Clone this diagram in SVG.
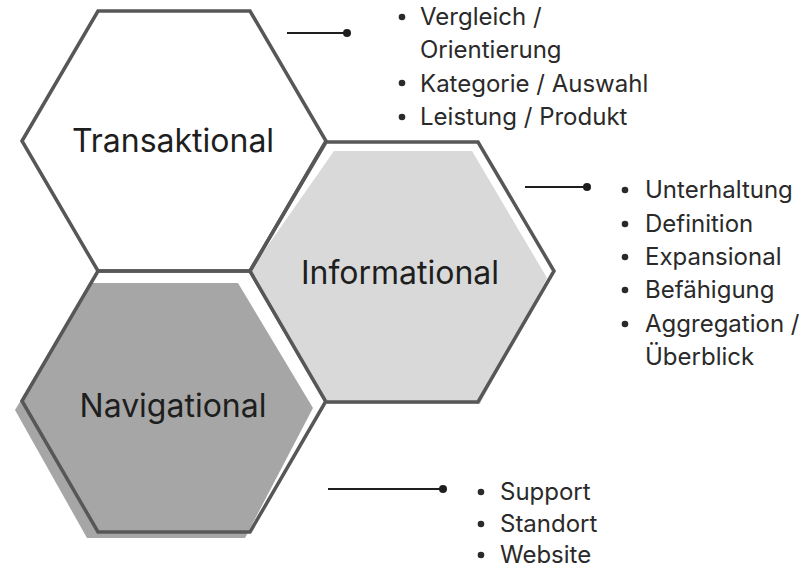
<svg xmlns="http://www.w3.org/2000/svg" width="807" height="569" viewBox="0 0 807 569">
<style>
.hexline{fill:none;stroke:#575757;stroke-width:3.5;stroke-linejoin:miter}
.title{font-family:Inter,"Liberation Sans",sans-serif;font-size:32px;fill:#1e1e1e;text-anchor:middle}
.item{font-family:Inter,"Liberation Sans",sans-serif;font-size:24px;fill:#2a2a2a}
.conn{stroke:#1e1e1e;stroke-width:2.2;fill:none}
.dot{fill:#1e1e1e}
.bul{fill:#2a2a2a}
</style>
<rect width="807" height="569" fill="#ffffff"/>
<g id="navigational">
  <polygon points="92,283 238,283 313,408 245,538 87,538 15,410" fill="#a6a6a6"/>
  <polygon class="hexline" points="22,401 98,271 250,271 326,401 250,532 98,532"/>
  <text class="title" x="173" y="417">Navigational</text>
</g>
<g id="informational">
  <polygon points="334,151 472,151 547,278 480,404 326,404 250,271" fill="#d9d9d9"/>
  <polygon class="hexline" points="250,271 326,142 478,142 554,271 478,402 326,402"/>
  <text class="title" x="400" y="284">Informational</text>
</g>
<g id="transaktional">
  <polygon class="hexline" points="22,141 98,11 250,11 326,141 250,271 98,271" fill="#ffffff"/>
  <text class="title" x="173" y="152">Transaktional</text>
</g>
<g id="connectors">
  <line class="conn" x1="287" y1="33" x2="347" y2="33"/>
  <circle class="dot" cx="347" cy="33" r="4"/>
  <line class="conn" x1="525" y1="187" x2="587" y2="187"/>
  <circle class="dot" cx="587" cy="187" r="4"/>
  <line class="conn" x1="328" y1="489" x2="443" y2="489"/>
  <circle class="dot" cx="443" cy="489" r="4"/>
</g>
<g id="list-transaktional">
  <circle class="bul" cx="402" cy="17" r="3.3"/>
  <text class="item" x="420" y="25">Vergleich /</text>
  <text class="item" x="420" y="58">Orientierung</text>
  <circle class="bul" cx="402" cy="83" r="3.3"/>
  <text class="item" x="420" y="91.5">Kategorie / Auswahl</text>
  <circle class="bul" cx="402" cy="117" r="3.3"/>
  <text class="item" x="420" y="125">Leistung / Produkt</text>
</g>
<g id="list-informational">
  <circle class="bul" cx="625" cy="190" r="3.3"/>
  <text class="item" x="645" y="198">Unterhaltung</text>
  <circle class="bul" cx="625" cy="224" r="3.3"/>
  <text class="item" x="645" y="232">Definition</text>
  <circle class="bul" cx="625" cy="257" r="3.3"/>
  <text class="item" x="645" y="265">Expansional</text>
  <circle class="bul" cx="625" cy="290" r="3.3"/>
  <text class="item" x="645" y="298">Befähigung</text>
  <circle class="bul" cx="625" cy="324" r="3.3"/>
  <text class="item" x="645" y="332">Aggregation /</text>
  <text class="item" x="645" y="365">Überblick</text>
</g>
<g id="list-navigational">
  <circle class="bul" cx="481" cy="492" r="3.3"/>
  <text class="item" x="500" y="500">Support</text>
  <circle class="bul" cx="481" cy="524" r="3.3"/>
  <text class="item" x="500" y="532">Standort</text>
  <circle class="bul" cx="481" cy="555" r="3.3"/>
  <text class="item" x="500" y="563">Website</text>
</g>
</svg>
